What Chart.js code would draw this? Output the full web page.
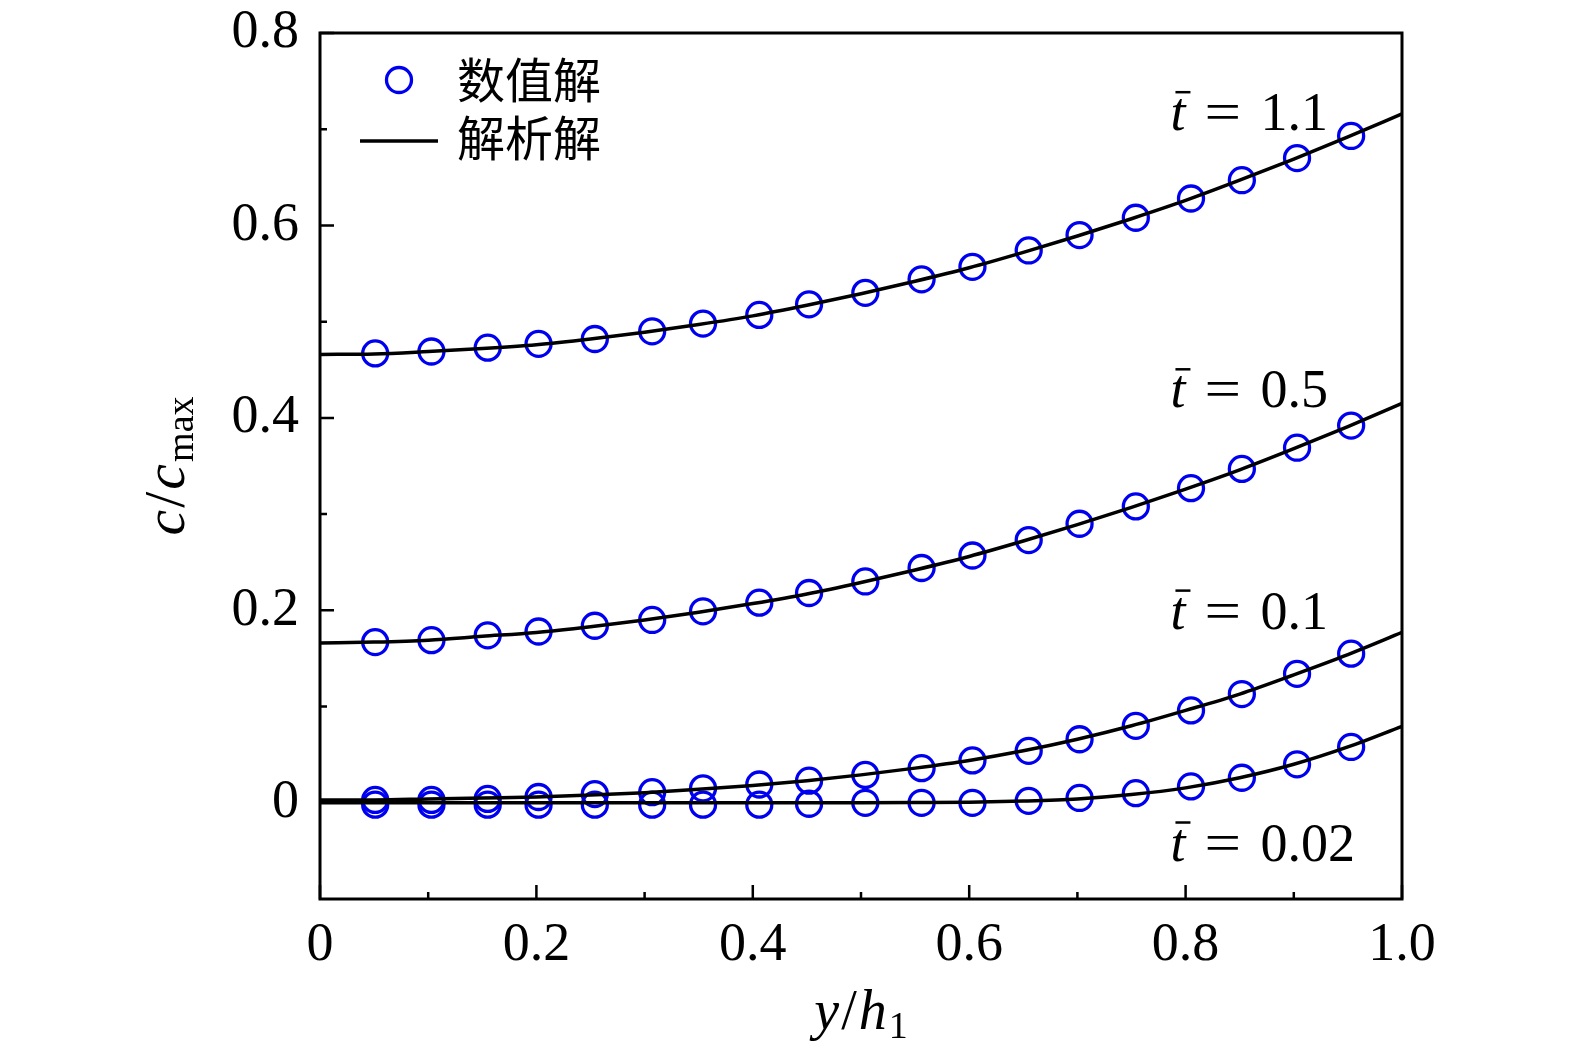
<!DOCTYPE html>
<html>
<head>
<meta charset="utf-8">
<script src="https://cdn.jsdelivr.net/npm/chart.js"></script>
<style>
  body { margin: 0; background: #fff; overflow: hidden; }
  canvas { display: block; }
</style>
</head>
<body>
<canvas id="myChart" width="1575" height="1053"></canvas>
<script>
// x positions of the numerical points (y/h1)
const xMarkers = [0.051, 0.103, 0.155, 0.202, 0.254, 0.307, 0.354, 0.406, 0.452, 0.504,
                  0.556, 0.603, 0.655, 0.702, 0.754, 0.805, 0.852, 0.903, 0.953];
// numerical solution (circles), one array per time
const num11  = [0.467, 0.469, 0.473, 0.477, 0.482, 0.490, 0.498, 0.507, 0.518, 0.530,
                0.544, 0.557, 0.574, 0.590, 0.608, 0.628, 0.647, 0.670, 0.693];
const num05  = [0.167, 0.169, 0.174, 0.178, 0.184, 0.190, 0.199, 0.208, 0.218, 0.230,
                0.244, 0.257, 0.273, 0.290, 0.308, 0.327, 0.347, 0.369, 0.392];
const num01  = [0.003, 0.003, 0.004, 0.006, 0.009, 0.011, 0.015, 0.019, 0.023, 0.029,
                0.036, 0.044, 0.054, 0.066, 0.080, 0.096, 0.113, 0.134, 0.155];
const num002 = [-0.002, -0.002, -0.002, -0.002, -0.002, -0.002, -0.002, -0.002, -0.001, 0,
                0, 0, 0.002, 0.005, 0.010, 0.017, 0.026, 0.040, 0.058];

// analytical solution (lines), read at these x values
const xLine = [0, 0.05, 0.1, 0.15, 0.2, 0.25, 0.3, 0.35, 0.4, 0.45, 0.5,
               0.55, 0.6, 0.65, 0.7, 0.75, 0.8, 0.85, 0.9, 0.95, 1.0];
const ana11  = [0.466, 0.4665, 0.469, 0.472, 0.476, 0.482, 0.489, 0.497, 0.506, 0.517, 0.529,
                0.542, 0.556, 0.572, 0.589, 0.607, 0.626, 0.647, 0.669, 0.692, 0.716];
const ana05  = [0.166, 0.167, 0.169, 0.173, 0.177, 0.183, 0.190, 0.198, 0.207, 0.217, 0.229,
                0.242, 0.256, 0.272, 0.289, 0.307, 0.326, 0.346, 0.368, 0.391, 0.415];
const ana01  = [0.003, 0.003, 0.004, 0.005, 0.006, 0.008, 0.0105, 0.014, 0.018, 0.023, 0.029,
                0.036, 0.044, 0.054, 0.066, 0.080, 0.096, 0.113, 0.133, 0.154, 0.177];
const ana002 = [0, 0, 0, 0, 0, 0, 0, 0, 0, 0, 0,
                0.0002, 0.0006, 0.0018, 0.004, 0.0085, 0.0155, 0.026, 0.040, 0.058, 0.0795];

// curve labels: value text and where they sit (data coords, left / baseline)
const curveLabels = ['1.1', '0.5', '0.1', '0.02'];
const curveLabelX = [0.786, 0.786, 0.786, 0.786];
const curveLabelY = [0.699, 0.411, 0.181, -0.060];

// ticks
const xTickValues = [0, 0.2, 0.4, 0.6, 0.8, 1.0];
const xTickLabels = ['0', '0.2', '0.4', '0.6', '0.8', '1.0'];
const yTickValues = [0, 0.2, 0.4, 0.6, 0.8];
const yTickLabels = ['0', '0.2', '0.4', '0.6', '0.8'];
const xMinorTicks = [0.1, 0.3, 0.5, 0.7, 0.9];
const yMinorTicks = [0.1, 0.3, 0.5, 0.7];

const legendLabels = ['数值解', '解析解'];

const BLUE = '#0000f0';
const SERIF = '"Liberation Serif", "DejaVu Serif", serif';
const CJK = '"Noto Sans CJK SC", sans-serif';

function pts(xs, ys) {
  return xs.map((x, i) => ({ x: x, y: ys[i] }));
}

function lineSet(ys) {
  return {
    data: pts(xLine, ys), showLine: true, pointRadius: 0,
    borderColor: '#000', borderWidth: 3.5, cubicInterpolationMode: 'monotone', order: 0
  };
}
function markerSet(ys) {
  return {
    data: pts(xMarkers, ys), showLine: false, pointRadius: 12.5, pointHoverRadius: 12.5,
    pointStyle: 'circle', borderColor: BLUE, backgroundColor: 'rgba(0,0,0,0)',
    borderWidth: 3.3, order: 1
  };
}

// drop the label-overflow padding so the plot box lands where the layout says
function noPad(s) {
  s.paddingTop = 0; s.paddingBottom = 0; s.paddingLeft = 0; s.paddingRight = 0;
}

// frame, inward ticks, legend, curve labels, axis titles
const decor = {
  id: 'decor',
  afterDraw(chart) {
    const ctx = chart.ctx;
    const a = chart.chartArea;
    const xs = chart.scales.x, ys = chart.scales.y;
    ctx.save();
    ctx.strokeStyle = '#000';
    ctx.lineWidth = 3;
    ctx.strokeRect(a.left, a.top, a.right - a.left, a.bottom - a.top);

    ctx.lineWidth = 2.5;
    ctx.beginPath();
    xTickValues.forEach(v => { const p = xs.getPixelForValue(v); ctx.moveTo(p, a.bottom); ctx.lineTo(p, a.bottom - 14); });
    xMinorTicks.forEach(v => { const p = xs.getPixelForValue(v); ctx.moveTo(p, a.bottom); ctx.lineTo(p, a.bottom - 7); });
    yTickValues.forEach(v => { const p = ys.getPixelForValue(v); ctx.moveTo(a.left, p); ctx.lineTo(a.left + 14, p); });
    yMinorTicks.forEach(v => { const p = ys.getPixelForValue(v); ctx.moveTo(a.left, p); ctx.lineTo(a.left + 7, p); });
    ctx.stroke();

    // legend
    ctx.lineWidth = 3.3;
    ctx.strokeStyle = BLUE;
    ctx.beginPath();
    ctx.arc(a.left + 79, a.top + 47, 12.5, 0, Math.PI * 2);
    ctx.stroke();
    ctx.lineWidth = 3.5;
    ctx.strokeStyle = '#000';
    ctx.beginPath();
    ctx.moveTo(a.left + 40, a.top + 108);
    ctx.lineTo(a.left + 118, a.top + 108);
    ctx.stroke();
    ctx.fillStyle = '#000';
    ctx.font = '48px ' + CJK;
    ctx.textBaseline = 'middle';
    ctx.textAlign = 'left';
    ctx.fillText(legendLabels[0], a.left + 137, a.top + 47);
    ctx.fillText(legendLabels[1], a.left + 137, a.top + 105);

    // curve labels  t̄ = value
    ctx.textBaseline = 'alphabetic';
    curveLabels.forEach((txt, i) => {
      const x0 = xs.getPixelForValue(curveLabelX[i]);
      const y0 = ys.getPixelForValue(curveLabelY[i]);
      ctx.font = 'italic 54px ' + SERIF;
      const tw = ctx.measureText('t').width;
      ctx.fillText('t', x0, y0);
      ctx.lineWidth = 2.5;
      ctx.beginPath();
      ctx.moveTo(x0 + 5, y0 - 38);
      ctx.lineTo(x0 + tw + 5, y0 - 38);
      ctx.stroke();
      ctx.font = '54px ' + SERIF;
      ctx.save();
      ctx.translate(x0 + 34, y0);
      ctx.scale(1.2, 1);
      ctx.fillText('=', 0, 0);
      ctx.restore();
      ctx.fillText(txt, x0 + 90, y0);
    });

    // x title  y/h1
    const cx = (a.left + a.right) / 2;
    const by = a.bottom + 130;
    ctx.font = 'italic 56px ' + SERIF;
    const wy = ctx.measureText('y').width;
    const wh = ctx.measureText('h').width;
    ctx.font = '56px ' + SERIF;
    const ws = ctx.measureText('/').width;
    ctx.font = '38px ' + SERIF;
    const w1 = ctx.measureText('1').width;
    let px = cx - (wy + ws + wh + w1 + 6) / 2;
    ctx.font = 'italic 56px ' + SERIF; ctx.fillText('y', px, by); px += wy + 2;
    ctx.font = '56px ' + SERIF; ctx.fillText('/', px, by); px += ws + 2;
    ctx.font = 'italic 56px ' + SERIF; ctx.fillText('h', px, by); px += wh + 2;
    ctx.font = '38px ' + SERIF; ctx.fillText('1', px, by + 9);

    // y title  c/cmax, rotated
    ctx.translate(a.left - 136, (a.top + a.bottom) / 2);
    ctx.rotate(-Math.PI / 2);
    ctx.font = 'italic 58px ' + SERIF;
    const wc = ctx.measureText('c').width;
    ctx.font = '58px ' + SERIF;
    const ws2 = ctx.measureText('/').width;
    ctx.font = '38px ' + SERIF;
    const wm = ctx.measureText('max').width;
    let q = -(wc * 2 + ws2 + wm + 6) / 2;
    ctx.font = 'italic 58px ' + SERIF; ctx.fillText('c', q, 0); q += wc + 2;
    ctx.font = '58px ' + SERIF; ctx.fillText('/', q, 0); q += ws2 + 2;
    ctx.font = 'italic 58px ' + SERIF; ctx.fillText('c', q, 0); q += wc + 2;
    ctx.font = '38px ' + SERIF; ctx.fillText('max', q, 9);
    ctx.restore();
  }
};

new Chart(document.getElementById('myChart'), {
  type: 'scatter',
  data: {
    datasets: [
      lineSet(ana11), lineSet(ana05), lineSet(ana01), lineSet(ana002),
      markerSet(num11), markerSet(num05), markerSet(num01), markerSet(num002)
    ]
  },
  options: {
    responsive: false,
    animation: false,
    devicePixelRatio: 1,
    layout: { padding: { top: 33, right: 173, bottom: 0, left: 0 } },
    plugins: { legend: { display: false }, tooltip: { enabled: false } },
    scales: {
      x: {
        type: 'linear', min: 0, max: 1,
        afterFit: s => { s.height = 154; noPad(s); },
        afterBuildTicks: s => { s.ticks = xTickValues.map(v => ({ value: v })); },
        grid: { display: false, drawTicks: false },
        border: { display: false },
        ticks: {
          padding: 14, color: '#000', maxRotation: 0,
          font: { family: SERIF, size: 54 },
          callback: (v, i) => xTickLabels[i]
        }
      },
      y: {
        type: 'linear', min: -0.1, max: 0.8,
        afterFit: s => { s.width = 320; noPad(s); },
        afterBuildTicks: s => { s.ticks = yTickValues.map(v => ({ value: v })); },
        grid: { display: false, drawTicks: false },
        border: { display: false },
        ticks: {
          padding: 21, color: '#000',
          font: { family: SERIF, size: 54 },
          callback: (v, i) => yTickLabels[i]
        }
      }
    }
  },
  plugins: [decor]
});
</script>
</body>
</html>
